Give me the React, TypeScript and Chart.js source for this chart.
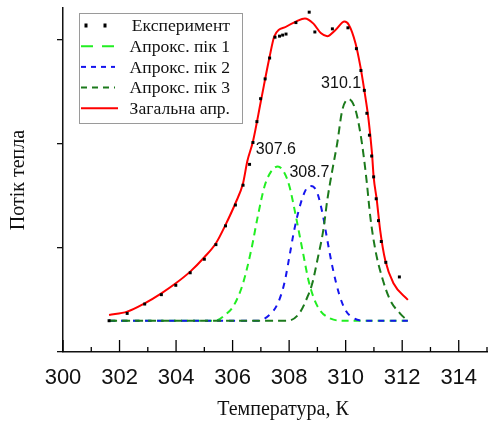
import React, { useEffect, useRef } from 'react';
import { Chart, registerables } from 'chart.js';

Chart.register(...registerables);

// Experimental points
const expT = [301.63, 302.27, 302.89, 303.48, 303.99, 304.5, 305.0, 305.41, 305.75, 306.1, 306.37, 306.6, 306.72, 306.86, 306.99, 307.15, 307.31, 307.5, 307.66, 307.77, 307.89, 308.24, 308.71, 308.91, 309.53, 310.08, 310.38, 310.54, 310.66, 310.75, 310.84, 310.92, 310.99, 311.08, 311.16, 311.26, 311.42, 311.9];
const expQ = [0.3, 0.37, 0.46, 0.55, 0.64, 0.76, 0.89, 1.03, 1.21, 1.41, 1.6, 1.8, 2.01, 2.21, 2.43, 2.62, 2.82, 3.02, 3.03, 3.04, 3.05, 3.16, 3.26, 3.07, 3.1, 3.11, 2.91, 2.7, 2.51, 2.29, 2.08, 1.88, 1.68, 1.47, 1.26, 1.06, 0.86, 0.72];

// Total approximation
const fitT = [301.63, 302.27, 302.89, 303.48, 303.99, 304.5, 305.0, 305.41, 305.75, 306.1, 306.37, 306.52, 306.72, 307.01, 307.3, 307.48, 307.89, 308.24, 308.56, 308.86, 309.12, 309.35, 309.64, 309.96, 310.11, 310.35, 310.52, 310.66, 310.81, 310.93, 310.99, 311.1, 311.22, 311.4, 311.69, 312.2];
const fitQ = [0.355, 0.387, 0.467, 0.563, 0.659, 0.771, 0.909, 1.043, 1.22, 1.427, 1.62, 1.83, 2.02, 2.42, 2.82, 3.03, 3.12, 3.17, 3.2, 3.15, 3.06, 3.03, 3.09, 3.17, 3.14, 2.96, 2.74, 2.51, 2.23, 1.91, 1.68, 1.46, 1.17, 0.88, 0.66, 0.5];

// Peak 1 (307.6)
const peak1T = [301.63, 305.37, 305.73, 306.05, 306.37, 306.66, 306.89, 307.13, 307.36, 307.6, 307.83, 308.01, 308.24, 308.47, 308.71, 309.0, 309.47, 309.94, 312.2];
const peak1Q = [0.3, 0.3, 0.355, 0.45, 0.66, 0.98, 1.3, 1.59, 1.73, 1.78, 1.72, 1.59, 1.3, 0.98, 0.66, 0.44, 0.32, 0.3, 0.3];

// Peak 2 (308.7)
const peak2T = [301.63, 306.89, 307.3, 307.6, 307.83, 308.01, 308.18, 308.41, 308.62, 308.77, 308.98, 309.18, 309.35, 309.53, 309.76, 309.99, 310.29, 310.64, 312.2];
const peak2Q = [0.3, 0.3, 0.355, 0.467, 0.659, 0.915, 1.17, 1.427, 1.571, 1.593, 1.538, 1.331, 1.075, 0.819, 0.563, 0.403, 0.323, 0.3, 0.3];

// Peak 3 (310.1)
const peak3T = [301.63, 307.95, 308.36, 308.65, 308.82, 309.0, 309.21, 309.35, 309.53, 309.7, 309.88, 310.11, 310.35, 310.52, 310.64, 310.75, 310.87, 311.05, 311.28, 311.57, 311.92, 312.16];
const peak3Q = [0.3, 0.3, 0.371, 0.53, 0.659, 0.883, 1.171, 1.459, 1.747, 2.0, 2.32, 2.425, 2.32, 2.1, 1.874, 1.62, 1.3, 0.979, 0.723, 0.5, 0.371, 0.307];

const seriesNames = ['Експеримент', 'Апрокс. пік 1', 'Апрокс. пік 2', 'Апрокс. пік 3', 'Загальна апр.'];
const peakLabels = ['307.6', '308.7', '310.1'];
const peakLabelT = [307.53, 308.72, 309.84];
const peakLabelQ = [1.8, 1.574, 2.428];

const xMin = 300;
const xMax = 315;
const yMin = 0;
const yMax = 3.3;
const xTitle = 'Температура, К';
const yTitle = 'Потік тепла';

const SERIF = '"Liberation Serif", "Times New Roman", serif';
const SANS = '"Liberation Sans", Arial, sans-serif';

const toPts = (t: number[], q: number[]) => t.map((v, i) => ({ x: v, y: q[i] }));

const overlayPlugin = {
  id: 'overlay',
  afterDraw(chart: any) {
    const { ctx, scales } = chart;
    const x = scales.x;
    const y = scales.y;
    ctx.save();
    // inward x ticks (major every 2, minor every 1)
    ctx.strokeStyle = '#000';
    ctx.lineWidth = 1.3;
    ctx.setLineDash([]);
    for (let v = xMin; v <= xMax; v += 1) {
      const px = x.getPixelForValue(v);
      const len = (v - xMin) % 2 === 0 ? 12 : 5;
      ctx.beginPath();
      ctx.moveTo(px, y.bottom);
      ctx.lineTo(px, y.bottom - len);
      ctx.stroke();
    }
    // peak labels
    ctx.fillStyle = '#111';
    ctx.font = `16px ${SANS}`;
    ctx.textAlign = 'center';
    ctx.textBaseline = 'middle';
    peakLabels.forEach((lab, i) => {
      ctx.fillText(lab, x.getPixelForValue(peakLabelT[i]), y.getPixelForValue(peakLabelQ[i]) - 15);
    });
    // x title
    ctx.font = `20px ${SERIF}`;
    ctx.fillStyle = '#111';
    ctx.fillText(xTitle, 283, 410);

    // legend
    const bx = 79, by = 13, bw = 163, bh = 110;
    ctx.fillStyle = '#fff';
    ctx.fillRect(bx, by, bw, bh);
    ctx.strokeStyle = '#9a9a9a';
    ctx.lineWidth = 1;
    ctx.strokeRect(bx + 0.5, by + 0.5, bw, bh);
    const ds = chart.data.datasets;
    const legendOrder = [0, 1, 2, 3, 4];
    legendOrder.forEach((di, row) => {
      const d = ds[di];
      const ry = 25.5 + row * 20.7;
      if (!d.showLine) {
        ctx.fillStyle = d.pointBackgroundColor;
        ctx.fillRect(84.5, ry - 2, 3, 4);
        ctx.fillRect(103.5, ry - 2, 3, 4);
      } else {
        ctx.strokeStyle = d.borderColor;
        ctx.lineWidth = d.borderWidth;
        ctx.setLineDash(d.legendDash || []);
        ctx.beginPath();
        ctx.moveTo(81, ry);
        ctx.lineTo(d.legendDash ? 115 : 118, ry);
        ctx.stroke();
        ctx.setLineDash([]);
      }
      ctx.fillStyle = '#111';
      ctx.font = `17.6px ${SERIF}`;
      ctx.textAlign = 'right';
      ctx.textBaseline = 'middle';
      ctx.fillText(d.label, 230, ry + 1);
    });
    ctx.restore();
  },
};

export default function App() {
  const ref = useRef<HTMLCanvasElement | null>(null);
  useEffect(() => {
    document.body.style.margin = '0';
    if (!ref.current) return;
    const chart = new Chart(ref.current, {
      type: 'line',
      data: {
        datasets: [
          {
            label: seriesNames[0],
            data: toPts(expT, expQ),
            showLine: false,
            pointStyle: 'rect',
            pointRadius: 2.1,
            pointBackgroundColor: '#000',
            pointBorderWidth: 0,
            borderColor: '#000',
            order: 0,
          } as any,
          {
            label: seriesNames[1],
            data: toPts(peak1T, peak1Q),
            showLine: true,
            borderColor: '#22ee22',
            borderWidth: 2,
            borderDash: [7, 5],
            legendDash: [12, 9],
            pointRadius: 0,
            cubicInterpolationMode: 'monotone',
            order: 4,
          },
          {
            label: seriesNames[2],
            data: toPts(peak2T, peak2Q),
            showLine: true,
            borderColor: '#1515ee',
            borderWidth: 2,
            borderDash: [6, 6],
            legendDash: [5, 5],
            pointRadius: 0,
            cubicInterpolationMode: 'monotone',
            order: 3,
          },
          {
            label: seriesNames[3],
            data: toPts(peak3T, peak3Q),
            showLine: true,
            borderColor: '#1c7a1c',
            borderWidth: 2,
            borderDash: [8, 5],
            legendDash: [6, 5],
            pointRadius: 0,
            cubicInterpolationMode: 'monotone',
            order: 2,
          },
          {
            label: seriesNames[4],
            data: toPts(fitT, fitQ),
            showLine: true,
            borderColor: '#ff0000',
            borderWidth: 2,
            pointRadius: 0,
            cubicInterpolationMode: 'monotone',
            order: 1,
          },
        ] as any,
      },
      options: {
        animation: false,
        responsive: false,
        devicePixelRatio: 1,
        layout: { padding: { top: 8, right: 0, bottom: 0, left: 0 } },
        plugins: {
          legend: { display: false },
          tooltip: { enabled: false },
        },
        scales: {
          x: {
            type: 'linear',
            min: xMin,
            max: xMax,
            grid: { display: false, drawTicks: true, tickLength: 10 },
            border: { display: true, color: '#111', width: 1.5 },
            ticks: {
              stepSize: 2,
              includeBounds: false,
              color: '#111',
              padding: 3,
              maxRotation: 0,
              font: { family: SANS, size: 22 },
            },
            afterFit: (s: any) => { s.height = 71; },
          },
          y: {
            type: 'linear',
            min: yMin,
            max: yMax,
            grid: { display: true, drawOnChartArea: false, drawTicks: true, tickLength: 6, color: '#111', lineWidth: 1.3 },
            border: { display: true, color: '#111', width: 1.5 },
            ticks: { display: false, stepSize: 1, includeBounds: false },
            title: {
              display: true,
              text: yTitle,
              color: '#111',
              font: { family: SERIF, size: 20 },
              padding: { top: 7, bottom: 0 },
            },
            afterFit: (s: any) => { s.width = 63; },
          },
        },
      } as any,
      plugins: [overlayPlugin],
    });
    return () => chart.destroy();
  }, []);
  return (
    <div style={{ width: 491, height: 423 }}>
      <canvas ref={ref} width={491} height={423} style={{ display: 'block', width: 491, height: 423 }} />
    </div>
  );
}
